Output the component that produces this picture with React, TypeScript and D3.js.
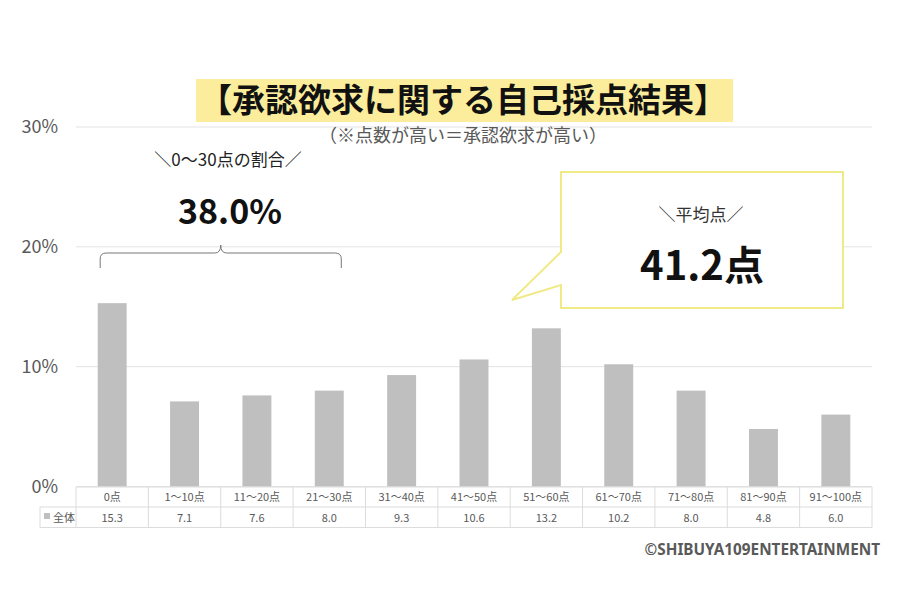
import React from 'react';
import * as d3 from 'd3';

const categories = ['0点', '1～10点', '11～20点', '21～30点', '31～40点', '41～50点', '51～60点', '61～70点', '71～80点', '81～90点', '91～100点'];
const values = [15.3, 7.1, 7.6, 8.0, 9.3, 10.6, 13.2, 10.2, 8.0, 4.8, 6.0];
const yTicks = [0, 10, 20, 30];
const seriesName = '全体';

const W = 900;
const H = 600;
const FONT = '"Noto Sans CJK JP", "Noto Sans", sans-serif';
const TEXT_GRAY = '#595959';
const BAR_COLOR = '#bfbfbf';
const GRID = '#e3e3e3';
const TABLE_LINE = '#dcdcdc';

export default function App() {
  const x = d3.scaleBand<string>().domain(categories).range([76, 872]).padding(0);
  const y = d3.scaleLinear().domain([0, 30]).range([486.5, 127]);
  const barW = x.bandwidth() * 0.4;

  const rowTop = 487;
  const rowMid = 507;
  const rowBot = 527.5;
  const legendLeft = 40;

  // brace over the first four categories
  const bx0 = x(categories[0])! + x.bandwidth() / 2 - 12;
  const bx1 = x(categories[3])! + x.bandwidth() / 2 + 12;
  const bmid = (bx0 + bx1) / 2;
  const braceTop = 253;
  const braceBot = 268;
  const r = 6;
  const bracePath = `M${bx0},${braceBot} L${bx0},${braceTop + r} Q${bx0},${braceTop} ${bx0 + r},${braceTop} L${bmid - r},${braceTop} Q${bmid},${braceTop} ${bmid},${braceTop - 8} Q${bmid},${braceTop} ${bmid + r},${braceTop} L${bx1 - r},${braceTop} Q${bx1},${braceTop} ${bx1},${braceTop + r} L${bx1},${braceBot}`;

  const calloutPath = 'M561,172 L843,172 L843,308 L561,308 L561,285 L512,300 L561,252 Z';

  return (
    <svg width={W} height={H} style={{ display: 'block', position: 'absolute', left: 0, top: 0, background: '#fff' }} fontFamily={FONT}>
      <rect x={0} y={0} width={W} height={H} fill="#fff" />

      {/* gridlines */}
      {yTicks.map((t) => (
        <line key={t} x1={76} x2={872} y1={y(t)} y2={y(t)} stroke={GRID} strokeWidth={1} />
      ))}
      {yTicks.map((t) => (
        <text key={'l' + t} x={58} y={y(t) + 6} textAnchor="end" fontSize={18} fill={TEXT_GRAY}>
          {t}%
        </text>
      ))}

      {/* title */}
      <rect x={196} y={79} width={537} height={43} fill="#fbed9b" />
      <text x={463} y={112} textAnchor="middle" fontSize={33} fontWeight="bold" fill="#111">
        【承認欲求に関する自己採点結果】
      </text>
      <text x={463} y={142} textAnchor="middle" fontSize={18} fill={TEXT_GRAY}>
        （※点数が高い＝承認欲求が高い）
      </text>

      {/* bars */}
      {categories.map((c, i) => (
        <rect
          key={c}
          x={x(c)! + (x.bandwidth() - barW) / 2}
          y={y(values[i])}
          width={barW}
          height={y(0) - y(values[i])}
          fill={BAR_COLOR}
        />
      ))}

      {/* data table */}
      <g stroke={TABLE_LINE} strokeWidth={1} fill="none">
        <line x1={76} x2={872} y1={rowTop} y2={rowTop} />
        <line x1={legendLeft} x2={872} y1={rowMid} y2={rowMid} />
        <line x1={legendLeft} x2={872} y1={rowBot} y2={rowBot} />
        <line x1={legendLeft} x2={legendLeft} y1={rowMid} y2={rowBot} />
        {categories.map((c) => (
          <line key={c} x1={x(c)!} x2={x(c)!} y1={rowTop} y2={rowBot} />
        ))}
        <line x1={872} x2={872} y1={rowTop} y2={rowBot} />
      </g>
      {categories.map((c, i) => (
        <g key={'t' + c} fontSize={11} fill={TEXT_GRAY} textAnchor="middle">
          <text x={x(c)! + x.bandwidth() / 2} y={rowTop + 14}>{c}</text>
          <text x={x(c)! + x.bandwidth() / 2} y={rowMid + 15}>{values[i].toFixed(1)}</text>
        </g>
      ))}
      <rect x={44} y={513} width={6} height={6} fill={BAR_COLOR} />
      <text x={53} y={rowMid + 15} fontSize={11} fill={TEXT_GRAY}>{seriesName}</text>

      {/* 0-30 annotation */}
      <text x={228} y={166} textAnchor="middle" fontSize={17} fill="#222">＼0～30点の割合／</text>
      <text x={230} y={224} textAnchor="middle" fontSize={34} fontWeight="bold" fill="#111">38.0%</text>
      <path d={bracePath} fill="none" stroke="#777" strokeWidth={1} />

      {/* average callout */}
      <path d={calloutPath} fill="#fff" stroke="#f0ea86" strokeWidth={2} />
      <text x={701} y={221} textAnchor="middle" fontSize={17} fill="#333">＼平均点／</text>
      <text x={702} y={280} textAnchor="middle" fontSize={40} fontWeight="bold" fill="#111">41.2点</text>

      {/* credit */}
      <text x={880} y={555} textAnchor="end" fontSize={15.3} fontWeight="bold" fill={TEXT_GRAY} fontFamily='"Noto Sans", sans-serif'>
        ©SHIBUYA109ENTERTAINMENT
      </text>
    </svg>
  );
}
